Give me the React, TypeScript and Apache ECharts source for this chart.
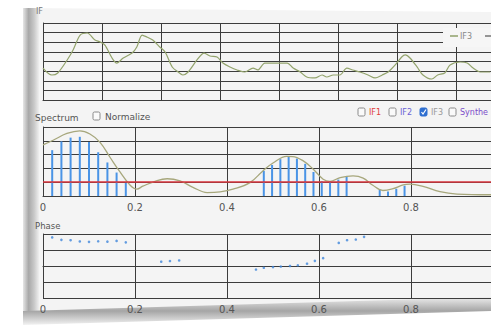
import React, { useEffect, useRef } from "react";
import * as echarts from "echarts";

// IF3 time signal (top panel)
const ifTime = [0, 0.15, 0.25, 0.41, 0.51, 0.63, 0.75, 0.88, 0.97, 1.05, 1.17, 1.25, 1.36, 1.51, 1.59, 1.68, 1.76, 1.86, 1.98, 2.07, 2.19, 2.29, 2.37, 2.46, 2.61, 2.73, 2.83, 2.95, 3.05, 3.17, 3.29, 3.42, 3.56, 3.64, 3.76, 3.88, 4.14, 4.24, 4.36, 4.47, 4.61, 4.73, 4.81, 4.92, 5.03, 5.15, 5.25, 5.37, 5.51, 5.63, 5.75, 5.85, 5.97, 6.08, 6.14, 6.22, 6.34, 6.44, 6.59, 6.69, 6.81, 6.9, 7.07, 7.19, 7.29, 7.41, 7.58];
const ifValue = [3.32, 2.6, 2.81, 4.16, 5.19, 6.75, 6.96, 6.23, 6.03, 5.71, 4.36, 3.84, 4.36, 4.88, 5.51, 6.75, 6.55, 6.23, 5.51, 4.99, 3.43, 2.91, 2.6, 2.91, 4.16, 4.88, 4.57, 4.47, 3.84, 3.43, 3.12, 2.91, 3.32, 3.12, 3.84, 3.84, 3.84, 3.32, 2.91, 2.39, 2.29, 2.6, 2.39, 2.6, 2.6, 3.32, 3.12, 2.91, 2.6, 2.29, 2.6, 2.91, 3.64, 4.47, 4.68, 4.36, 3.43, 2.6, 2.18, 2.6, 2.81, 3.64, 3.95, 3.84, 3.32, 2.91, 2.91];

// Spectrum envelope
const envFreq = [0, 0.022, 0.052, 0.08, 0.102, 0.124, 0.146, 0.167, 0.189, 0.204, 0.217, 0.248, 0.27, 0.298, 0.326, 0.357, 0.385, 0.413, 0.45, 0.478, 0.5, 0.53, 0.543, 0.565, 0.587, 0.609, 0.624, 0.646, 0.674, 0.696, 0.717, 0.739, 0.761, 0.783, 0.798, 0.826, 0.863, 0.9, 0.972, 1.0];
const envAmp = [3.7, 4.04, 4.53, 4.72, 4.49, 3.89, 2.79, 1.76, 0.8, 0.5, 0.71, 1.12, 1.25, 1.09, 0.63, 0.25, 0.3, 0.49, 0.97, 1.82, 2.39, 2.87, 2.86, 2.56, 1.96, 1.22, 1.06, 1.34, 1.46, 1.3, 0.78, 0.4, 0.53, 0.8, 0.86, 0.7, 0.31, 0.14, 0.09, 0.09];

// Spectrum stems (IF3)
const stemFreq = [0.02, 0.04, 0.06, 0.08, 0.1, 0.12, 0.14, 0.16, 0.18, 0.48, 0.498, 0.516, 0.534, 0.552, 0.57, 0.588, 0.606, 0.624, 0.642, 0.66, 0.732, 0.75, 0.768, 0.786];
const stemAmp = [3.32, 3.96, 4.23, 4.29, 3.91, 3.17, 2.43, 1.7, 0.96, 1.82, 2.25, 2.67, 2.87, 2.71, 2.33, 1.74, 1.07, 1.06, 1.19, 1.4, 0.48, 0.32, 0.52, 0.74];
const thresholdLevel = 1.0;

// Phase points (degrees)
const phaseFreq = [0.02, 0.04, 0.06, 0.08, 0.1, 0.12, 0.14, 0.16, 0.18, 0.257, 0.276, 0.296, 0.463, 0.48, 0.5, 0.517, 0.537, 0.554, 0.574, 0.591, 0.609, 0.643, 0.661, 0.68, 0.698];
const phaseDeg = [161, 147, 145, 138, 136, 139, 137, 141, 133, 24, 28, 31, -20, -10, -6, -3, 0, 4, 13, 29, 44, 130, 145, 149, 164];

const freqTicks = ["0", "0.2", "0.4", "0.6", "0.8", "1.0"];
const legendItems = ["IF1", "IF2", "IF3", "Synthe"];
const legendColors = ["#e0403a", "#6b63d6", "#9a9a9a", "#7b4cc9"];
const legendChecked = [false, false, true, false];

const FONT = "DejaVu Sans";
const GRID = "#3c3c3c";

function zip(a: number[], b: number[]) {
  return a.map((v, i) => [v, b[i]]);
}

export default function App() {
  const ref = useRef<HTMLDivElement>(null);
  useEffect(() => {
    if (!ref.current) return;
    const chart = echarts.init(ref.current, null, { renderer: "svg" });
    const freqLabel = (v: number) => {
      const i = Math.round(v / 0.2);
      return freqTicks[i] ?? "";
    };
    const axisCommon = {
      axisLine: { show: true, lineStyle: { color: GRID, width: 1 } },
      axisTick: { show: false },
      splitLine: { show: true, lineStyle: { color: GRID, width: 1 } },
    };
    const legendX = [358, 389, 420, 449];
    const legendGraphics: any[] = [];
    legendItems.forEach((name, i) => {
      const x = legendX[i];
      legendGraphics.push({
        type: "rect",
        shape: { x, y: 108, width: 7, height: 8, r: 1.5 },
        style: legendChecked[i] ? { fill: "#2f6fd0", stroke: "#2f6fd0" } : { fill: "#fafafa", stroke: "#8a8a8a", lineWidth: 1 },
      });
      if (legendChecked[i]) {
        legendGraphics.push({
          type: "polyline",
          shape: { points: [[x + 1.5, 112], [x + 3, 114], [x + 6, 109.5]] },
          style: { stroke: "#fff", lineWidth: 1.2, fill: "none" },
        });
      }
      legendGraphics.push({
        type: "text",
        x: x + 11,
        y: 112,
        style: { text: name, fill: legendColors[i], font: `8px ${FONT}`, verticalAlign: "middle" },
      });
    });

    const gridCommon = { outerBoundsMode: "none", containLabel: false };

    chart.setOption({
      animation: false,
      backgroundColor: "#ffffff",
      graphic: [
        {
          type: "polygon",
          z: -10,
          shape: { points: [[23, 8], [491, 12], [491, 300], [23, 322]] },
          style: { fill: "#f4f4f4" },
        },
        {
          type: "rect",
          z: -9,
          shape: { x: 23, y: 8, width: 16, height: 314 },
          style: {
            fill: new echarts.graphic.LinearGradient(0, 0, 1, 0, [
              { offset: 0, color: "#e6e6e6" },
              { offset: 0.35, color: "#a8a8a8" },
              { offset: 0.7, color: "#c9c9c9" },
              { offset: 1, color: "#efefef" },
            ]),
          },
        },
        {
          type: "polygon",
          z: -8,
          shape: { points: [[23, 311], [491, 297], [491, 311], [23, 325]] },
          style: {
            fill: new echarts.graphic.LinearGradient(0, 0, 0, 1, [
              { offset: 0, color: "#eeeeee" },
              { offset: 0.5, color: "#a5a5a5" },
              { offset: 1, color: "#f2f2f2" },
            ]),
          },
        },
        { type: "text", x: 36, y: 7, style: { text: "IF", fill: "#777", font: `8px ${FONT}` } },
        { type: "text", x: 35, y: 118, style: { text: "Spectrum", fill: "#555", font: `9px ${FONT}`, verticalAlign: "middle" } },
        { type: "rect", shape: { x: 93, y: 112, width: 7, height: 8, r: 1.5 }, style: { fill: "#fafafa", stroke: "#8a8a8a", lineWidth: 1 } },
        { type: "text", x: 105, y: 117, style: { text: "Normalize", fill: "#555", font: `9px ${FONT}`, verticalAlign: "middle" } },
        { type: "text", x: 35, y: 226, style: { text: "Phase", fill: "#555", font: `8.5px ${FONT}`, verticalAlign: "middle" } },
        { type: "rect", z: 20, shape: { x: 443, y: 28, width: 50, height: 19 }, style: { fill: "#f6f6f6" } },
        { type: "line", z: 21, shape: { x1: 450, y1: 36, x2: 458, y2: 36 }, style: { stroke: "#8fa06a", lineWidth: 1.5 } },
        { type: "text", z: 21, x: 460, y: 36, style: { text: "IF3", fill: "#888", font: `8px ${FONT}`, verticalAlign: "middle" } },
        { type: "line", z: 21, shape: { x1: 485, y1: 36, x2: 493, y2: 36 }, style: { stroke: "#555", lineWidth: 1.2 } },
        ...legendGraphics,
      ],
      grid: [
        { left: 43, top: 23, width: 472, height: 77, ...gridCommon },
        { left: 43, top: 127, width: 460, height: 69, ...gridCommon },
        { left: 43, top: 234, width: 460, height: 64, ...gridCommon },
      ],
      xAxis: [
        { gridIndex: 0, type: "value", min: 0, max: 8, interval: 1, axisLabel: { show: false }, ...axisCommon },
        {
          gridIndex: 1, type: "value", min: 0, max: 1, interval: 0.2, ...axisCommon,
          axisLabel: { formatter: freqLabel, color: "#555", fontFamily: FONT, fontSize: 10, margin: 6, showMaxLabel: false },
        },
        {
          gridIndex: 2, type: "value", min: 0, max: 1, interval: 0.2, ...axisCommon,
          axisLabel: { formatter: freqLabel, color: "#555", fontFamily: FONT, fontSize: 10, margin: 6, showMaxLabel: false },
        },
      ],
      yAxis: [
        { gridIndex: 0, type: "value", min: 0, max: 8, interval: 1, axisLabel: { show: false }, ...axisCommon },
        { gridIndex: 1, type: "value", min: 0, max: 5, interval: 1, axisLabel: { show: false }, ...axisCommon },
        { gridIndex: 2, type: "value", min: -180, max: 180, interval: 90, axisLabel: { show: false }, ...axisCommon },
      ],
      series: [
        {
          name: "IF3", type: "line", xAxisIndex: 0, yAxisIndex: 0, data: zip(ifTime, ifValue),
          smooth: 0.3, showSymbol: false, lineStyle: { color: "#93a36c", width: 1.2 },
        },
        {
          name: "IF3 spectrum", type: "bar", xAxisIndex: 1, yAxisIndex: 1, data: zip(stemFreq, stemAmp),
          barWidth: 2, itemStyle: { color: "#4a94e6" },
          markLine: {
            silent: true, symbol: "none", label: { show: false },
            lineStyle: { color: "#d8343c", width: 1.5, type: "solid" },
            data: [{ yAxis: thresholdLevel }],
          },
        },
        {
          name: "Envelope", type: "line", xAxisIndex: 1, yAxisIndex: 1, data: zip(envFreq, envAmp),
          smooth: 0.4, showSymbol: false, lineStyle: { color: "#a7a77c", width: 1.3 }, z: 3,
        },
        {
          name: "Phase", type: "scatter", xAxisIndex: 2, yAxisIndex: 2, data: zip(phaseFreq, phaseDeg),
          symbolSize: 2.6, itemStyle: { color: "#3f86db" },
        },
      ],
    });
    return () => chart.dispose();
  }, []);
  return <div ref={ref} style={{ position: "absolute", left: 0, top: 0, width: 491, height: 325 }} />;
}
